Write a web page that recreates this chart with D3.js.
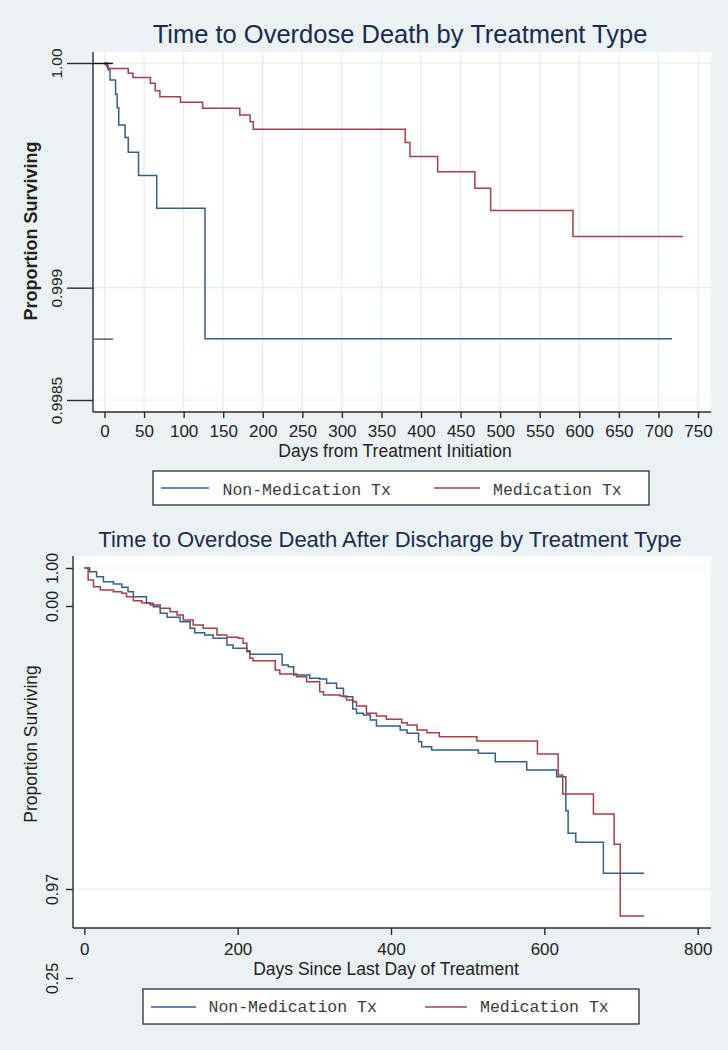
<!DOCTYPE html>
<html>
<head>
<meta charset="utf-8">
<script src="https://cdn.jsdelivr.net/npm/d3@7"></script>
<style>
  body { margin: 0; background: #eaf2f3; }
  svg { display: block; font-family: Arial, "Liberation Sans", sans-serif; }
  .legend-text { font-family: "Courier New", "Liberation Mono", monospace; }
</style>
</head>
<body>
<svg id="chart" width="728" height="1050"></svg>
<script>
const seriesNames = ["Non-Medication Tx", "Medication Tx"]
const seriesColors = ["#30608e", "#a83f47"]

// panel 1 - days from treatment initiation
const initDaysNonMed = [0, 1, 3, 5, 7, 14, 16, 18, 26, 30, 43, 66, 127, 717]
const initSurvNonMed = [1, 0.999992, 0.999984, 0.999969, 0.999924, 0.999861, 0.999801, 0.999724, 0.999668, 0.999603, 0.999499, 0.999354, 0.998773, 0.998773]
const initDaysMed = [0, 4, 30, 36, 58, 64, 70, 96, 124, 171, 184, 188, 380, 386, 421, 468, 488, 592, 731]
const initSurvMed = [1, 0.999976, 0.999954, 0.999935, 0.99991, 0.999876, 0.99985, 0.999825, 0.999799, 0.999769, 0.999739, 0.999705, 0.999646, 0.999584, 0.999516, 0.999443, 0.999344, 0.999228, 0.999228]
const initXTicks = [0, 50, 100, 150, 200, 250, 300, 350, 400, 450, 500, 550, 600, 650, 700, 750]
const initYTicks = [1, 0.999, 0.9985]
const initYLabels = ["1.00", "0.999", "0.9985"]

// panel 2 - days since discharge
const dischDaysNonMed = [0, 7, 16, 25, 38, 49, 57, 64, 81, 90, 99, 108, 125, 138, 144, 157, 168, 186, 194, 212, 216, 258, 266, 273, 294, 307, 316, 329, 338, 350, 355, 364, 373, 381, 412, 421, 436, 440, 453, 514, 536, 577, 616, 628, 631, 641, 677, 730]
const dischSurvNonMed = [1, 0.99965, 0.99919, 0.99872, 0.99851, 0.9982, 0.99779, 0.99732, 0.9967, 0.99638, 0.99577, 0.99539, 0.99498, 0.99436, 0.99395, 0.99374, 0.99343, 0.9928, 0.9925, 0.99227, 0.99194, 0.99094, 0.99078, 0.99, 0.98969, 0.98963, 0.98922, 0.98876, 0.98797, 0.98682, 0.98642, 0.98626, 0.98579, 0.98523, 0.98486, 0.98455, 0.98377, 0.9833, 0.98299, 0.98268, 0.9819, 0.98112, 0.9805, 0.97732, 0.97521, 0.97436, 0.97147, 0.97147]
const dischDaysMed = [0, 5, 12, 21, 38, 49, 55, 64, 75, 86, 99, 112, 121, 129, 142, 155, 173, 186, 201, 207, 212, 216, 220, 249, 255, 277, 290, 307, 312, 334, 342, 351, 355, 368, 381, 394, 414, 421, 434, 447, 463, 512, 591, 618, 624, 664, 691, 699, 730]
const dischSurvMed = [1, 0.99888, 0.99825, 0.99794, 0.99779, 0.99764, 0.99732, 0.99694, 0.99676, 0.99654, 0.99623, 0.99592, 0.99561, 0.99514, 0.99467, 0.99436, 0.99374, 0.99352, 0.99343, 0.99296, 0.99218, 0.99156, 0.99134, 0.99047, 0.99009, 0.98984, 0.98937, 0.98844, 0.98813, 0.98804, 0.98766, 0.98751, 0.9871, 0.98642, 0.98617, 0.98586, 0.98554, 0.98533, 0.98486, 0.98461, 0.98423, 0.98383, 0.98262, 0.98065, 0.97888, 0.97701, 0.97418, 0.96748, 0.96748]
const dischXTicks = [0, 200, 400, 600, 800]
const dischYTicks = [1, 0.99645, 0.97, 0.96168]
const dischYLabels = ["1.00", "0.00", "0.97", "0.25"]
const dischYGrid = [1, 0.97]

const svg = d3.select("#chart")
svg.append("rect").attr("width", 728).attr("height", 1050).attr("fill", "#eaf2f3")

const axisColor = "#2b2b2b"
const gridColor = "#e3ecee"

const drawPanel = (p) => {
  const g = svg.append("g")
  const x = d3.scaleLinear().domain(p.xDomain).range(p.xRange)
  const y = d3.scaleLinear().domain(p.yDomain).range(p.yRange)

  // plot region
  g.append("rect")
    .attr("x", p.box.x0).attr("y", p.box.y0)
    .attr("width", p.box.x1 - p.box.x0).attr("height", p.box.y1 - p.box.y0)
    .attr("fill", "#fff")

  // grid
  if (p.vGrid) {
    g.selectAll("line.vgrid")
      .data(p.xTicks)
      .enter()
      .append("line")
        .attr("x1", d => x(d)).attr("x2", d => x(d))
        .attr("y1", p.box.y0).attr("y2", p.box.y1)
        .attr("stroke", gridColor).attr("stroke-width", 1.2)
  }
  g.selectAll("line.hgrid")
    .data(p.yGrid)
    .enter()
    .append("line")
      .attr("x1", p.box.x0).attr("x2", p.box.x1)
      .attr("y1", d => y(d)).attr("y2", d => y(d))
      .attr("stroke", gridColor).attr("stroke-width", 1.2)

  // survival curves
  const line = d3.line()
    .x(d => x(d[0]))
    .y(d => y(d[1]))
    .curve(d3.curveStepAfter)

  p.series.forEach((s, i) => {
    g.append("path")
      .datum(d3.zip(s.days, s.surv))
      .attr("d", line)
      .attr("fill", "none")
      .attr("stroke", seriesColors[i])
      .attr("stroke-width", 1.5)
  })

  // axis lines
  g.append("line")
    .attr("x1", p.box.x0).attr("x2", p.box.x0)
    .attr("y1", p.box.y0).attr("y2", p.box.y1)
    .attr("stroke", axisColor).attr("stroke-width", 1.4)
  g.append("line")
    .attr("x1", p.box.x0).attr("x2", p.box.x1)
    .attr("y1", p.box.y1).attr("y2", p.box.y1)
    .attr("stroke", axisColor).attr("stroke-width", 1.4)

  // y axis
  const yAxis = g.append("g")
    .attr("transform", `translate(${p.box.x0},0)`)
    .call(d3.axisLeft(y).tickValues(p.yTicks).tickSize(p.yTickSize).tickFormat((d, i) => p.yLabels[i]))
  yAxis.select(".domain").remove()
  yAxis.selectAll("line").attr("stroke", axisColor).attr("stroke-width", 1.4)
  yAxis.selectAll("text")
    .attr("transform", "rotate(-90)")
    .attr("x", 0).attr("y", -p.yLabelOffset).attr("dy", 0)
    .attr("text-anchor", "middle")
    .attr("fill", "#222")
    .style("font-size", p.yTickFont + "px")

  if (p.innerTicks) {
    const inner = g.append("g")
      .attr("transform", `translate(${p.box.x0},0)`)
      .call(d3.axisRight(y).tickValues(p.innerTicks).tickSize(20).tickFormat(""))
    inner.select(".domain").remove()
    inner.selectAll("line").attr("stroke", (d, i) => i === 0 ? "#111" : "#555").attr("stroke-width", 1.4)
  }

  // x axis
  const xAxis = g.append("g")
    .attr("transform", `translate(0,${p.box.y1})`)
    .call(d3.axisBottom(x).tickValues(p.xTicks).tickSize(p.xTickSize))
  xAxis.select(".domain").remove()
  xAxis.selectAll("line").attr("stroke", axisColor).attr("stroke-width", 1.4)
  xAxis.selectAll("text")
    .attr("y", p.xLabelOffset).attr("dy", 0)
    .attr("fill", "#222")
    .style("font-size", "17px")

  // titles
  g.append("text")
    .attr("x", p.title.x).attr("y", p.title.y)
    .attr("text-anchor", "middle")
    .attr("fill", "#1b2a52")
    .style("font-size", p.title.size + "px")
    .text(p.title.text)

  g.append("text")
    .attr("x", p.xTitle.x).attr("y", p.xTitle.y)
    .attr("text-anchor", "middle")
    .attr("fill", "#222")
    .style("font-size", "17.5px")
    .text(p.xTitle.text)

  g.append("text")
    .attr("transform", `translate(${p.yTitle.x},${p.yTitle.y}) rotate(-90)`)
    .attr("text-anchor", "middle")
    .attr("fill", "#222")
    .style("font-size", p.yTitle.size + "px")
    .style("font-weight", p.yTitle.weight)
    .text("Proportion Surviving")

  // legend
  const lg = p.legend
  g.append("rect")
    .attr("x", lg.x0).attr("y", lg.y0)
    .attr("width", lg.x1 - lg.x0).attr("height", lg.y1 - lg.y0)
    .attr("fill", "#fff")
    .attr("stroke", "#3a3a3a").attr("stroke-width", 1.4)
  lg.items.forEach((it, i) => {
    g.append("line")
      .attr("x1", it.l0).attr("x2", it.l1)
      .attr("y1", lg.lineY).attr("y2", lg.lineY)
      .attr("stroke", seriesColors[i]).attr("stroke-width", 1.5)
    g.append("text")
      .classed("legend-text", true)
      .attr("x", it.tx).attr("y", lg.textY)
      .attr("fill", "#3a3a3a")
      .style("font-size", "16.5px")
      .text(seriesNames[i])
  })
}

drawPanel({
  box: { x0: 93, x1: 711, y0: 52, y1: 412 },
  xDomain: [0, 750], xRange: [104.5, 698],
  yDomain: [0.9985, 1], yRange: [400, 63],
  xTicks: initXTicks, vGrid: true,
  yTicks: initYTicks, yLabels: initYLabels, yGrid: initYTicks,
  yTickSize: 26, yLabelOffset: 31.5, yTickFont: 15.5,
  innerTicks: [1, d3.min(initSurvNonMed)],
  xTickSize: 6, xLabelOffset: 25,
  series: [
    { days: initDaysNonMed, surv: initSurvNonMed },
    { days: initDaysMed, surv: initSurvMed }
  ],
  title: { text: "Time to Overdose Death by Treatment Type", x: 400, y: 43, size: 25.5 },
  xTitle: { text: "Days from Treatment Initiation", x: 395, y: 457 },
  yTitle: { x: 37, y: 231, size: 18, weight: "bold" },
  legend: {
    x0: 153, x1: 649, y0: 471, y1: 505, lineY: 488, textY: 495,
    items: [ { l0: 161, l1: 209, tx: 222.5 }, { l0: 434, l1: 480, tx: 493 } ]
  }
})

drawPanel({
  box: { x0: 73, x1: 711, y0: 556, y1: 928 },
  xDomain: [0, 800], xRange: [84.3, 697.7],
  yDomain: [0.97, 1], yRange: [889, 568],
  xTicks: dischXTicks, vGrid: false,
  yTicks: dischYTicks, yLabels: dischYLabels, yGrid: dischYGrid,
  yTickSize: 7, yLabelOffset: 15, yTickFont: 16,
  innerTicks: null,
  xTickSize: 7, xLabelOffset: 27,
  series: [
    { days: dischDaysNonMed, surv: dischSurvNonMed },
    { days: dischDaysMed, surv: dischSurvMed }
  ],
  title: { text: "Time to Overdose Death After Discharge by Treatment Type", x: 390, y: 547, size: 22 },
  xTitle: { text: "Days Since Last Day of Treatment", x: 386, y: 975 },
  yTitle: { x: 37, y: 744, size: 17.5, weight: "normal" },
  legend: {
    x0: 143, x1: 639, y0: 989, y1: 1024, lineY: 1007, textY: 1012,
    items: [ { l0: 151, l1: 196, tx: 208.5 }, { l0: 425, l1: 467, tx: 480 } ]
  }
})
</script>
</body>
</html>
